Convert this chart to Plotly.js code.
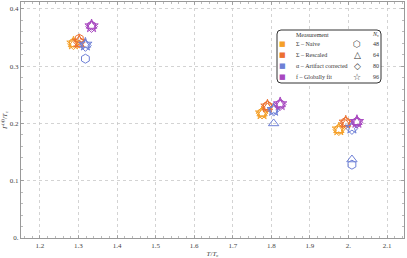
<!DOCTYPE html>
<html><head><meta charset="utf-8">
<script src="https://cdn.plot.ly/plotly-3.0.1.min.js"></script>
<style>html,body{margin:0;padding:0;background:#fff}#g{width:407px;height:258px}</style>
</head><body><div id="g"></div>
<script>
// Measurements and lattice sizes
const measurements = ["Σ – Naive", "Σ – Rescaled", "α – Artifact corrected", "f – Globally fit"];
const colors = ["#F5A028", "#EC7030", "#6E80D6", "#A848C0"];
const Ntau = [48, 64, 80, 96];
const symbols = ["hexagon-open", "triangle-up-open", "diamond-open", "star-open"];
const legendGlyphs = ["⬡", "△", "◇", "☆"];

// Temperatures T/Tc per measurement (slightly offset for visibility)
const T_naive    = [1.287, 1.776, 1.975];
const T_rescaled = [1.302, 1.790, 1.993];
const T_artifact = [1.318, 1.806, 2.009];
const T_global   = [1.334, 1.823, 2.022];

// Gamma/Tc values, per Ntau (48, 64, 80, 96)
const G_naive = [
  [0.341, 0.219, 0.190],
  [0.338, 0.217, 0.188],
  [0.339, 0.218, 0.189],
  [0.340, 0.218, 0.190]
];
const G_rescaled = [
  [0.348, 0.231, 0.203],
  [0.338, 0.228, 0.199],
  [0.342, 0.230, 0.201],
  [0.343, 0.230, 0.202]
];
const G_artifact = [
  [0.313, 0.224, 0.128],
  [0.337, 0.200, 0.137],
  [0.336, 0.223, 0.191],
  [0.338, 0.224, 0.193]
];
const G_global = [
  [0.371, 0.234, 0.203],
  [0.370, 0.233, 0.202],
  [0.369, 0.233, 0.202],
  [0.370, 0.234, 0.203]
];

const xTickVals = [1.2, 1.3, 1.4, 1.5, 1.6, 1.7, 1.8, 1.9, 2.0, 2.1];
const xTickText = ["1.2", "1.3", "1.4", "1.5", "1.6", "1.7", "1.8", "1.9", "2.", "2.1"];
const yTickVals = [0, 0.1, 0.2, 0.3, 0.4];
const yTickText = ["0.", "0.1", "0.2", "0.3", "0.4"];

const Ts = [T_naive, T_rescaled, T_artifact, T_global];
const Gs = [G_naive, G_rescaled, G_artifact, G_global];

const traces = [];
for (let m = 0; m < 4; m++) {
  for (let n = 0; n < 4; n++) {
    traces.push({
      type: "scatter", mode: "markers",
      x: Ts[m], y: Gs[m][n],
      marker: {symbol: symbols[n], size: n === 3 ? 10 : 9, color: colors[m], line: {width: 1, color: colors[m]}},
      showlegend: false, hoverinfo: "skip"
    });
  }
}

// legend layout (in px of the page)
const L = 21, R = 404, TOP = 2, BOT = 238;
const px = v => (v - L) / (R - L);
const py = v => (BOT - v) / (BOT - TOP);
const rowsY = [44, 54.7, 65.7, 76.7];

const tf = {family: "Liberation Serif, serif", size: 6, color: "#333"};
const annotations = [];
const ann = (x, y, text, font, xanchor) => annotations.push({xref: "paper", yref: "paper", x: px(x), y: py(y), xanchor: xanchor || "left", yanchor: "middle", showarrow: false, text: text, font: font, borderpad: 0});
ann(295, 35, "Measurement", tf);
ann(371, 35, "<i>N</i><sub>τ</sub>", tf);
for (let i = 0; i < 4; i++) {
  ann(282, rowsY[i], "■", {family: "DejaVu Sans", size: 7, color: colors[i]}, "center");
  ann(295, rowsY[i], measurements[i], tf);
  ann(357, rowsY[i], legendGlyphs[i], {family: "DejaVu Sans", size: 9, color: "#333"}, "center");
  ann(372, rowsY[i], String(Ntau[i]), tf);
}

// rounded legend box
const bx0 = px(277), bx1 = px(381), by0 = py(83), by1 = py(30);
const rx = 4 / (R - L), ry = 4 / (BOT - TOP);
const path = `M ${bx0 + rx} ${by1} L ${bx1 - rx} ${by1} Q ${bx1} ${by1} ${bx1} ${by1 - ry} L ${bx1} ${by0 + ry} Q ${bx1} ${by0} ${bx1 - rx} ${by0} L ${bx0 + rx} ${by0} Q ${bx0} ${by0} ${bx0} ${by0 + ry} L ${bx0} ${by1 - ry} Q ${bx0} ${by1} ${bx0 + rx} ${by1} Z`;

const axisCommon = {
  showline: true, linecolor: "#999", linewidth: 1.2, mirror: "allticks",
  ticks: "inside", ticklen: 3, tickcolor: "#999", tickwidth: 0.8,
  showgrid: true, gridcolor: "#c8c8c8", griddash: "dot", gridwidth: 0.8,
  zeroline: false, tickfont: {family: "Liberation Serif, serif", size: 7, color: "#444"}, automargin: false,
};

const layout = {
  width: 407, height: 258,
  margin: {l: L, r: 407 - R, t: TOP, b: 258 - BOT},
  paper_bgcolor: "#fff", plot_bgcolor: "#fff",
  xaxis: Object.assign({}, axisCommon, {
    range: [1.151, 2.144], tickvals: xTickVals, ticktext: xTickText,
    minor: {ticks: "inside", ticklen: 2, dtick: 0.02, tickcolor: "#aaa", showgrid: false},
    title: {text: "<i>T</i>/<i>T</i><sub>c</sub>", font: {family: "Liberation Serif", size: 7, color: "#444"}, standoff: 4}
  }),
  yaxis: Object.assign({}, axisCommon, {
    range: [0, 0.412], tickvals: yTickVals, ticktext: yTickText,
    minor: {ticks: "inside", ticklen: 2, dtick: 0.02, tickcolor: "#aaa", showgrid: false},
    title: {text: "<i>Γ</i><sup>(ϕ)</sup>/<i>T</i><sub>c</sub>", font: {family: "Liberation Serif", size: 7, color: "#444"}, standoff: 2}
  }),
  shapes: [{type: "path", xref: "paper", yref: "paper", path: path, line: {color: "#333", width: 1}, fillcolor: "#ffffff", layer: "above"}],
  annotations: annotations,
  showlegend: false
};

Plotly.newPlot("g", traces, layout, {staticPlot: true, displayModeBar: false});
</script>
</body></html>
